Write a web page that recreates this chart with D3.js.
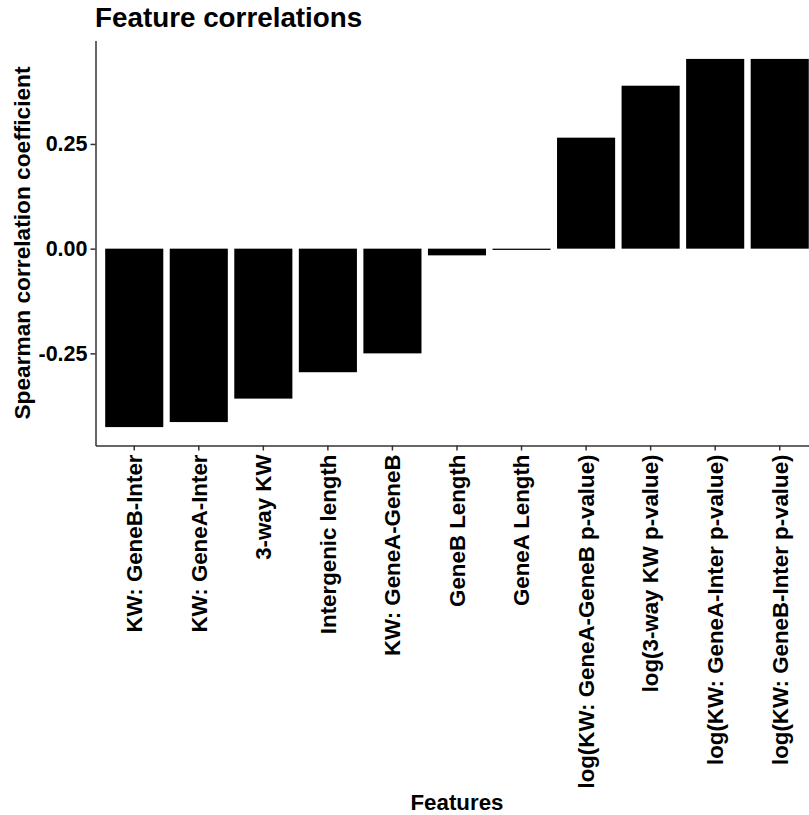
<!DOCTYPE html>
<html>
<head>
<meta charset="utf-8">
<script src="https://cdn.jsdelivr.net/npm/d3@7"></script>
<style>
  body { margin: 0; background: #fff; }
  svg { display: block; font-family: "Liberation Sans", Arial, sans-serif; }
  .axis text { font-size: 21.5px; font-weight: bold; fill: #000; }
  .axis path, .axis line { stroke: #333; stroke-width: 1.5; }
</style>
</head>
<body>
<div id="chart"></div>
<script>
const features = [
  "KW: GeneB-Inter",
  "KW: GeneA-Inter",
  "3-way KW",
  "Intergenic length",
  "KW: GeneA-GeneB",
  "GeneB Length",
  "GeneA Length",
  "log(KW: GeneA-GeneB p-value)",
  "log(3-way KW p-value)",
  "log(KW: GeneA-Inter p-value)",
  "log(KW: GeneB-Inter p-value)"
];
const correlations = [-0.426, -0.414, -0.358, -0.295, -0.25, -0.016, -0.003, 0.265, 0.389, 0.453, 0.453];
const yTicks = [-0.25, 0, 0.25];

const w = 809;
const h = 815;
const padLeft = 95.5, padTop = 40.5, padBottom = 445.5;
const step = 64.55;
const padRight = padLeft + step * (features.length + 0.2);

const svg = d3.select("#chart")
              .append("svg")
              .attr("width", w)
              .attr("height", h);

// ggplot-style 5% expansion on the continuous axis
const lo = d3.min(correlations), hi = d3.max(correlations);
const pad = (hi - lo) * 0.05;

const xScale = d3.scaleBand()
                 .domain(features)
                 .range([padLeft, padRight])
                 .paddingInner(0.1)
                 .paddingOuter(0.15);

const yScale = d3.scaleLinear()
                 .domain([lo - pad, hi + pad])
                 .range([padBottom, padTop]);

svg.selectAll("rect")
   .data(correlations)
   .enter()
   .append("rect")
   .attr("x", (d, i) => xScale(features[i]))
   .attr("y", d => yScale(Math.max(0, d)))
   .attr("width", xScale.bandwidth())
   .attr("height", d => Math.max(1, Math.abs(yScale(d) - yScale(0))))
   .attr("fill", "#000");

const xAxis = d3.axisBottom(xScale).tickSize(5).tickSizeOuter(0);
const yAxis = d3.axisLeft(yScale)
                .tickValues(yTicks)
                .tickFormat(d => d < 0 ? "-" + d3.format(".2f")(-d) : d3.format(".2f")(d))
                .tickSize(5)
                .tickSizeOuter(0)
                .tickPadding(3);

svg.append("g")
   .attr("class", "axis")
   .attr("transform", `translate(0, ${padBottom})`)
   .call(xAxis)
   .selectAll("text")
   .style("font-size", "22.3px")
   .attr("transform", "rotate(-90)")
   .attr("text-anchor", "end")
   .attr("x", -9)
   .attr("y", 0)
   .attr("dy", "0.35em");

svg.append("g")
   .attr("class", "axis")
   .attr("transform", `translate(${padLeft}, 0)`)
   .call(yAxis);

svg.append("text")
   .attr("x", 95)
   .attr("y", 27)
   .attr("font-size", 27.8)
   .attr("font-weight", "bold")
   .text("Feature correlations");

svg.append("text")
   .attr("text-anchor", "middle")
   .attr("transform", `translate(30, ${(padTop + padBottom) / 2}) rotate(-90)`)
   .attr("font-size", 22.7)
   .attr("font-weight", "bold")
   .text("Spearman correlation coefficient");

svg.append("text")
   .attr("text-anchor", "middle")
   .attr("x", (padLeft + padRight) / 2)
   .attr("y", 810)
   .attr("font-size", 22.3)
   .attr("font-weight", "bold")
   .text("Features");
</script>
</body>
</html>
